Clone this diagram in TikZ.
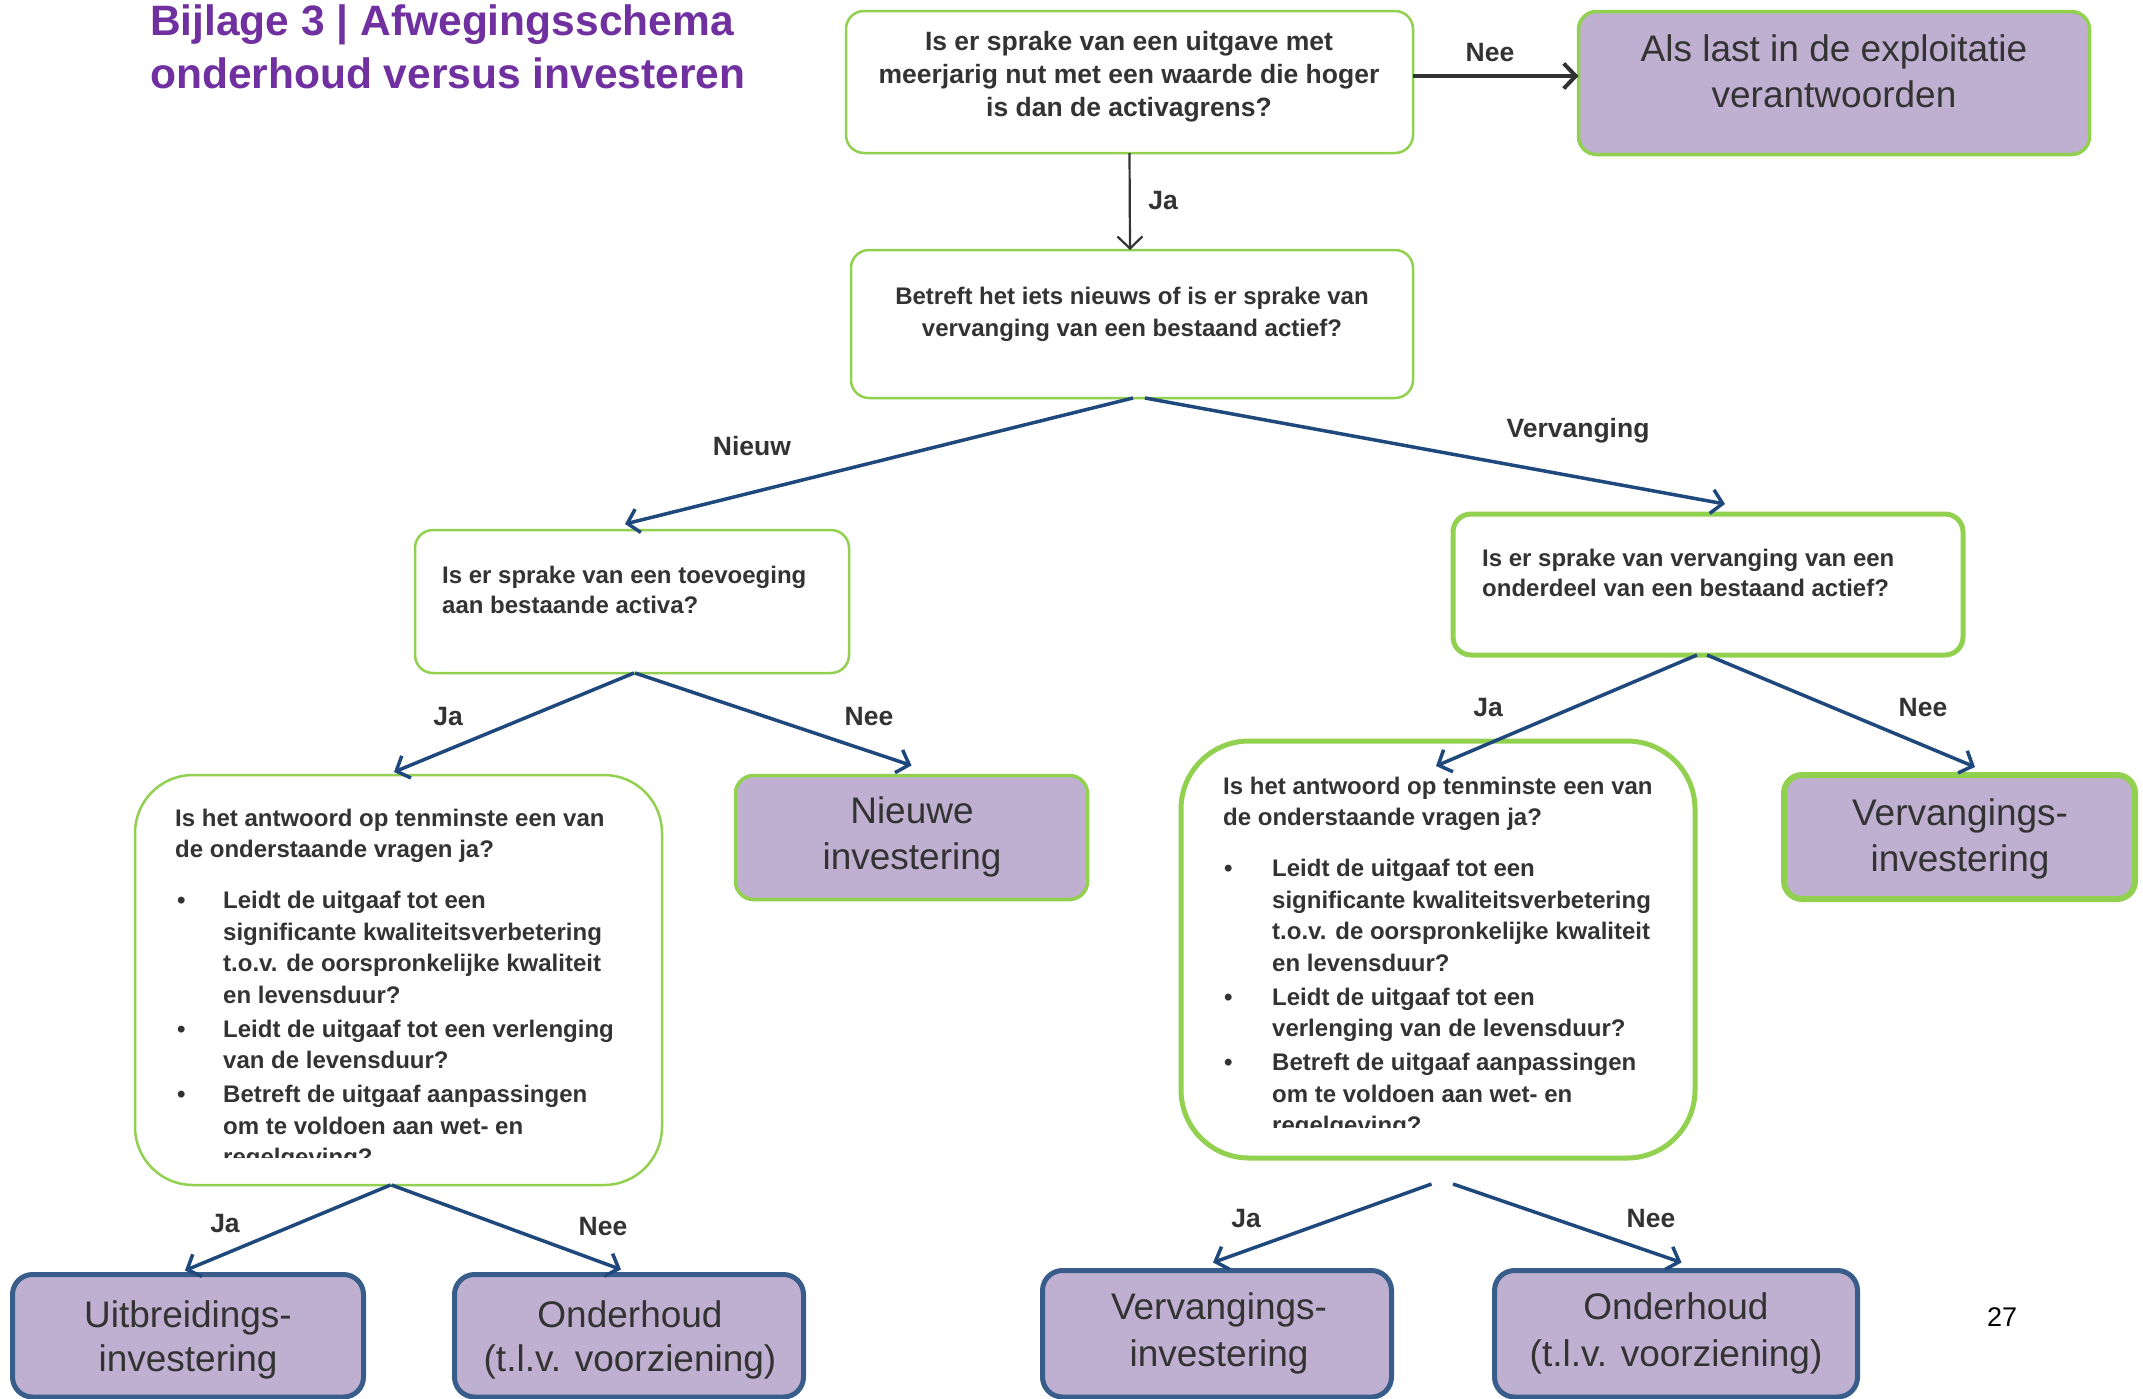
\documentclass[tikz,border=0pt]{standalone}
\usepackage{fontspec}
\setmainfont{Liberation Sans}
\usetikzlibrary{arrows.meta,calc}
\definecolor{grn}{HTML}{92D050}
\definecolor{lav}{HTML}{BFAFD0}
\definecolor{arrowblue}{HTML}{1F497D}
\definecolor{boxblue}{HTML}{385D8A}
\definecolor{txt}{HTML}{333333}
\definecolor{ttl}{HTML}{7030A0}
\begin{document}
\begin{tikzpicture}[x=1pt,y=-1pt,
  qbox/.style={draw=grn, rectangle, rounded corners=18pt, inner sep=0pt, outer sep=0pt, line width=2.5pt},
  pbox/.style={draw=grn, fill=lav, rectangle, rounded corners=18pt, inner sep=0pt, outer sep=0pt, line width=3.5pt},
  bbox/.style={draw=boxblue, fill=lav, rectangle, rounded corners=20pt, inner sep=0pt, outer sep=0pt, line width=5pt},
  qtxt/.style={inner sep=0pt, text=txt, font=\fontsize{24}{31.5}\selectfont\bfseries},
  atxt/.style={inner sep=0pt, text=txt, font=\fontsize{26.5}{33}\selectfont\bfseries},
  ptxt/.style={inner sep=0pt, text=txt, font=\fontsize{37}{46.5}\selectfont},
  btxt/.style={inner sep=0pt, text=txt, font=\fontsize{37}{44}\selectfont},
  lbl/.style={inner sep=0pt, text=txt, font=\fontsize{26.5}{30}\selectfont\bfseries, text height=19pt, text depth=0pt},
  blarrow/.style={draw=arrowblue, line width=3.5pt, -{Straight Barb[length=11pt,width=24pt]}},
  grarrow/.style={draw=txt, -{Straight Barb[length=12pt,width=25pt]}}
]
\clip (0,0) rectangle (2143,1398);
\fill[white] (0,0) rectangle (2143,1398);

% title
\node[anchor=base west, inner sep=0pt, text=ttl, font=\fontsize{42.5}{53}\selectfont\bfseries] (title) at (150,35)
  {\begin{tabular}[t]{@{}l@{}}Bijlage 3 | Afwegingsschema\\onderhoud versus investeren\end{tabular}};

% boxes
\node[qbox, minimum width=567pt, minimum height=142pt] (A) at (1129.5,82) {};
\node[pbox, minimum width=511pt, minimum height=143pt] (L) at (1834,83) {};
\node[qbox, minimum width=562pt, minimum height=148pt] (B) at (1132,324) {};
\node[qbox, minimum width=434pt, minimum height=143pt] (C) at (632,601.5) {};
\node[qbox, line width=5pt, minimum width=510pt, minimum height=141pt] (D) at (1708,584.5) {};
\node[qbox, rounded corners=58pt, minimum width=527pt, minimum height=410pt] (E) at (398.5,980) {};
\node[pbox, minimum width=352pt, minimum height=124pt] (F) at (911.5,837.5) {};
\node[qbox, line width=5pt, rounded corners=68pt, minimum width=514pt, minimum height=417pt] (G) at (1438,949.5) {};
\node[pbox, line width=6pt, minimum width=351pt, minimum height=124pt] (H) at (1959.5,837) {};
\node[bbox, minimum width=351pt, minimum height=122.5pt] (U) at (188,1335.75) {};
\node[bbox, minimum width=349pt, minimum height=122.5pt] (O1) at (629,1335.75) {};
\node[bbox, minimum width=349pt, minimum height=126.5pt] (V2) at (1217,1333.75) {};
\node[bbox, minimum width=363pt, minimum height=126.5pt] (O2) at (1676,1333.75) {};

% box texts
\node[atxt, anchor=base] (At) at (1129,50)
  {\begin{tabular}[t]{@{}c@{}}Is er sprake van een uitgave met\\meerjarig nut met een waarde die hoger\\is dan de activagrens?\end{tabular}};
\node[ptxt, anchor=base] (Lt) at (1834,61)
  {\begin{tabular}[t]{@{}c@{}}Als last in de exploitatie\\verantwoorden\end{tabular}};
\node[qtxt, anchor=base] (Bt) at (1132,304.5)
  {\begin{tabular}[t]{@{}c@{}}Betreft het iets nieuws of is er sprake van\\vervanging van een bestaand actief?\end{tabular}};
\node[qtxt, font=\fontsize{24}{30}\selectfont\bfseries, anchor=base west] (Ct) at (442,583)
  {\begin{tabular}[t]{@{}l@{}}Is er sprake van een toevoeging\\aan bestaande activa?\end{tabular}};
\node[qtxt, font=\fontsize{24}{29.5}\selectfont\bfseries, anchor=base west] (Dt) at (1482,566.5)
  {\begin{tabular}[t]{@{}l@{}}Is er sprake van vervanging van een\\onderdeel van een bestaand actief?\end{tabular}};
\node[ptxt, anchor=base] (Ft) at (912,823)
  {\begin{tabular}[t]{@{}c@{}}Nieuwe\\investering\end{tabular}};
\node[ptxt, anchor=base] (Ht) at (1960,825)
  {\begin{tabular}[t]{@{}c@{}}Vervangings-\\investering\end{tabular}};
\node[btxt, anchor=base] (Ut) at (188,1327)
  {\begin{tabular}[t]{@{}c@{}}Uitbreidings-\\investering\end{tabular}};
\node[btxt, anchor=base] (O1t) at (630,1327)
  {\begin{tabular}[t]{@{}c@{}}Onderhoud\\(t.l.v. voorziening)\end{tabular}};
\node[btxt, font=\fontsize{37}{47}\selectfont, anchor=base] (V2t) at (1219,1319)
  {\begin{tabular}[t]{@{}c@{}}Vervangings-\\investering\end{tabular}};
\node[btxt, font=\fontsize{37}{47}\selectfont, anchor=base] (O2t) at (1676,1319)
  {\begin{tabular}[t]{@{}c@{}}Onderhoud\\(t.l.v. voorziening)\end{tabular}};

\begin{scope}
\clip (140,780) rectangle (660,1157);
\node[qtxt, anchor=base west] (Et) at (175,826)
  {\begin{tabular}[t]{@{}l@{}l@{}}
  \multicolumn{2}{@{}l@{}}{Is het antwoord op tenminste een van}\\
  \multicolumn{2}{@{}l@{}}{de onderstaande vragen ja?}\\[19.5pt]
  \makebox[48pt][l]{\hspace*{2pt}•} & Leidt de uitgaaf tot een\\
  & significante kwaliteitsverbetering\\
  & t.o.v. de oorspronkelijke kwaliteit\\
  & en levensduur?\\[2.5pt]
  \makebox[48pt][l]{\hspace*{2pt}•} & Leidt de uitgaaf tot een verlenging\\
  & van de levensduur?\\[2.5pt]
  \makebox[48pt][l]{\hspace*{2pt}•} & Betreft de uitgaaf aanpassingen\\
  & om te voldoen aan wet- en\\
  & regelgeving?
  \end{tabular}};
\end{scope}

\begin{scope}
\clip (1185,745) rectangle (1690,1127);
\node[qtxt, anchor=base west] (Gt) at (1223,794)
  {\begin{tabular}[t]{@{}l@{}l@{}}
  \multicolumn{2}{@{}l@{}}{Is het antwoord op tenminste een van}\\
  \multicolumn{2}{@{}l@{}}{de onderstaande vragen ja?}\\[19.5pt]
  \makebox[49pt][l]{\hspace*{1pt}•} & Leidt de uitgaaf tot een\\
  & significante kwaliteitsverbetering\\
  & t.o.v. de oorspronkelijke kwaliteit\\
  & en levensduur?\\[2.5pt]
  \makebox[49pt][l]{\hspace*{1pt}•} & Leidt de uitgaaf tot een\\
  & verlenging van de levensduur?\\[2.5pt]
  \makebox[49pt][l]{\hspace*{1pt}•} & Betreft de uitgaaf aanpassingen\\
  & om te voldoen aan wet- en\\
  & regelgeving?
  \end{tabular}};
\end{scope}

% connectors
\draw[grarrow, line width=4pt] ([yshift=6pt]A.east) -- ([yshift=7pt]L.west);
\draw[grarrow, line width=2.2pt] (A.south) -- ([xshift=-2pt]B.north);
\draw[blarrow] ([xshift=1pt]B.south) -- ([xshift=-7pt,yshift=6pt]C.north);
\draw[blarrow] ([xshift=13pt]B.south) -- ([xshift=17pt,yshift=10pt]D.north);
\draw[blarrow] ([xshift=2pt]C.south) -- ([xshift=-4.5pt,yshift=3pt]E.north);
\draw[blarrow] ([xshift=3pt]C.south) -- ([yshift=10pt]F.north);
\draw[blarrow] ([xshift=-11pt]D.south) -- ([xshift=-2pt,yshift=-25pt]G.north);
\draw[blarrow] ([xshift=-1pt]D.south) -- ([xshift=15.5pt,yshift=8pt]H.north);
\draw[blarrow] ([xshift=-8pt]E.south) -- ([xshift=-3pt,yshift=4pt]U.north);
\draw[blarrow] ([xshift=-7pt]E.south) -- ([xshift=-8pt,yshift=5pt]O1.north);
\draw[blarrow] ([xshift=-6.5pt,yshift=-26pt]G.south) -- ([xshift=-4pt,yshift=8pt]V2.north);
\draw[blarrow] ([xshift=15pt,yshift=-26pt]G.south) -- ([xshift=5.5pt,yshift=8pt]O2.north);

% connector labels
\node[lbl] (l1) at (1490,52) {Nee};
\node[lbl] (l2) at (1163,200) {Ja};
\node[lbl] (l3) at (752,446) {Nieuw};
\node[lbl] (l4) at (1578,428) {Vervanging};
\node[lbl] (l5) at (448,716) {Ja};
\node[lbl] (l6) at (869,716) {Nee};
\node[lbl] (l7) at (1488,707) {Ja};
\node[lbl] (l8) at (1923,707) {Nee};
\node[lbl] (l9) at (225,1223) {Ja};
\node[lbl] (l10) at (603,1226) {Nee};
\node[lbl] (l11) at (1246,1218) {Ja};
\node[lbl] (l12) at (1651,1218) {Nee};

% page number
\node[inner sep=0pt, font=\fontsize{27}{30}\selectfont, text height=19pt, text depth=0pt] (pg) at (2002,1317) {27};
\end{tikzpicture}
\end{document}
